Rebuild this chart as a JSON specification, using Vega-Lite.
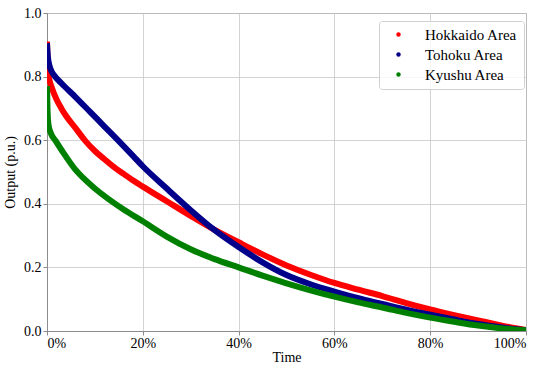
{
  "$schema": "https://vega.github.io/schema/vega-lite/v6.json",
  "autosize": "none",
  "padding": {"left": 47, "top": 13, "right": 24, "bottom": 39},
  "width": 479,
  "height": 318,
  "config": {
    "font": "'Liberation Serif', 'Times New Roman', serif",
    "view": {"stroke": "#8c8c8c", "strokeWidth": 1},
    "axis": {
      "labelFont": "'Liberation Serif', 'Times New Roman', serif",
      "titleFont": "'Liberation Serif', 'Times New Roman', serif",
      "labelFontSize": 14,
      "titleFontSize": 14,
      "labelColor": "#000",
      "titleColor": "#000",
      "titleFontWeight": "normal",
      "domainColor": "#8c8c8c",
      "tickColor": "#8c8c8c",
      "tickSize": 4,
      "gridColor": "#c8c8c8",
      "gridWidth": 0.8
    }
  },
  "data": {
    "values": [
      {"area": "Hokkaido Area", "t": 0, "v": 0.91},
      {"area": "Hokkaido Area", "t": 0.002, "v": 0.82},
      {"area": "Hokkaido Area", "t": 0.005, "v": 0.79},
      {"area": "Hokkaido Area", "t": 0.01, "v": 0.765},
      {"area": "Hokkaido Area", "t": 0.02, "v": 0.728},
      {"area": "Hokkaido Area", "t": 0.03, "v": 0.70},
      {"area": "Hokkaido Area", "t": 0.04, "v": 0.676},
      {"area": "Hokkaido Area", "t": 0.06, "v": 0.637},
      {"area": "Hokkaido Area", "t": 0.08, "v": 0.598},
      {"area": "Hokkaido Area", "t": 0.10, "v": 0.566},
      {"area": "Hokkaido Area", "t": 0.12, "v": 0.54},
      {"area": "Hokkaido Area", "t": 0.14, "v": 0.515},
      {"area": "Hokkaido Area", "t": 0.16, "v": 0.494},
      {"area": "Hokkaido Area", "t": 0.18, "v": 0.473},
      {"area": "Hokkaido Area", "t": 0.20, "v": 0.454},
      {"area": "Hokkaido Area", "t": 0.25, "v": 0.408},
      {"area": "Hokkaido Area", "t": 0.30, "v": 0.362},
      {"area": "Hokkaido Area", "t": 0.35, "v": 0.318},
      {"area": "Hokkaido Area", "t": 0.40, "v": 0.279},
      {"area": "Hokkaido Area", "t": 0.45, "v": 0.241},
      {"area": "Hokkaido Area", "t": 0.50, "v": 0.206},
      {"area": "Hokkaido Area", "t": 0.55, "v": 0.177},
      {"area": "Hokkaido Area", "t": 0.60, "v": 0.151},
      {"area": "Hokkaido Area", "t": 0.65, "v": 0.13},
      {"area": "Hokkaido Area", "t": 0.70, "v": 0.11},
      {"area": "Hokkaido Area", "t": 0.75, "v": 0.088},
      {"area": "Hokkaido Area", "t": 0.80, "v": 0.068},
      {"area": "Hokkaido Area", "t": 0.85, "v": 0.05},
      {"area": "Hokkaido Area", "t": 0.90, "v": 0.033},
      {"area": "Hokkaido Area", "t": 0.95, "v": 0.017},
      {"area": "Hokkaido Area", "t": 1.0, "v": 0.003},
      {"area": "Tohoku Area", "t": 0, "v": 0.905},
      {"area": "Tohoku Area", "t": 0.002, "v": 0.86},
      {"area": "Tohoku Area", "t": 0.006, "v": 0.83},
      {"area": "Tohoku Area", "t": 0.01, "v": 0.815},
      {"area": "Tohoku Area", "t": 0.017, "v": 0.80},
      {"area": "Tohoku Area", "t": 0.03, "v": 0.779},
      {"area": "Tohoku Area", "t": 0.06, "v": 0.735},
      {"area": "Tohoku Area", "t": 0.09, "v": 0.689},
      {"area": "Tohoku Area", "t": 0.12, "v": 0.643},
      {"area": "Tohoku Area", "t": 0.15, "v": 0.597},
      {"area": "Tohoku Area", "t": 0.18, "v": 0.55},
      {"area": "Tohoku Area", "t": 0.20, "v": 0.518},
      {"area": "Tohoku Area", "t": 0.25, "v": 0.448},
      {"area": "Tohoku Area", "t": 0.30, "v": 0.38},
      {"area": "Tohoku Area", "t": 0.35, "v": 0.317},
      {"area": "Tohoku Area", "t": 0.40, "v": 0.264},
      {"area": "Tohoku Area", "t": 0.45, "v": 0.216},
      {"area": "Tohoku Area", "t": 0.50, "v": 0.176},
      {"area": "Tohoku Area", "t": 0.55, "v": 0.147},
      {"area": "Tohoku Area", "t": 0.60, "v": 0.124},
      {"area": "Tohoku Area", "t": 0.65, "v": 0.103},
      {"area": "Tohoku Area", "t": 0.70, "v": 0.085},
      {"area": "Tohoku Area", "t": 0.75, "v": 0.067},
      {"area": "Tohoku Area", "t": 0.80, "v": 0.051},
      {"area": "Tohoku Area", "t": 0.85, "v": 0.036},
      {"area": "Tohoku Area", "t": 0.90, "v": 0.022},
      {"area": "Tohoku Area", "t": 0.95, "v": 0.011},
      {"area": "Tohoku Area", "t": 1.0, "v": 0.002},
      {"area": "Kyushu Area", "t": 0, "v": 0.77},
      {"area": "Kyushu Area", "t": 0.001, "v": 0.70},
      {"area": "Kyushu Area", "t": 0.003, "v": 0.65},
      {"area": "Kyushu Area", "t": 0.008, "v": 0.622},
      {"area": "Kyushu Area", "t": 0.017, "v": 0.60},
      {"area": "Kyushu Area", "t": 0.03, "v": 0.57},
      {"area": "Kyushu Area", "t": 0.058, "v": 0.51},
      {"area": "Kyushu Area", "t": 0.08, "v": 0.475},
      {"area": "Kyushu Area", "t": 0.10, "v": 0.448},
      {"area": "Kyushu Area", "t": 0.13, "v": 0.413},
      {"area": "Kyushu Area", "t": 0.16, "v": 0.382},
      {"area": "Kyushu Area", "t": 0.20, "v": 0.345},
      {"area": "Kyushu Area", "t": 0.25, "v": 0.297},
      {"area": "Kyushu Area", "t": 0.30, "v": 0.257},
      {"area": "Kyushu Area", "t": 0.35, "v": 0.226},
      {"area": "Kyushu Area", "t": 0.40, "v": 0.2},
      {"area": "Kyushu Area", "t": 0.45, "v": 0.174},
      {"area": "Kyushu Area", "t": 0.50, "v": 0.15},
      {"area": "Kyushu Area", "t": 0.55, "v": 0.128},
      {"area": "Kyushu Area", "t": 0.60, "v": 0.108},
      {"area": "Kyushu Area", "t": 0.65, "v": 0.09},
      {"area": "Kyushu Area", "t": 0.70, "v": 0.074},
      {"area": "Kyushu Area", "t": 0.75, "v": 0.057},
      {"area": "Kyushu Area", "t": 0.80, "v": 0.042},
      {"area": "Kyushu Area", "t": 0.85, "v": 0.029},
      {"area": "Kyushu Area", "t": 0.90, "v": 0.017},
      {"area": "Kyushu Area", "t": 0.95, "v": 0.008},
      {"area": "Kyushu Area", "t": 1.0, "v": 0.002}
    ]
  },
  "mark": {"type": "line", "strokeWidth": 6, "interpolate": "monotone", "clip": true},
  "encoding": {
    "x": {
      "field": "t", "type": "quantitative",
      "scale": {"domain": [0, 1], "nice": false},
      "axis": {"title": "Time", "format": ".0%", "values": [0, 0.2, 0.4, 0.6, 0.8, 1.0], "labelPadding": 1, "titlePadding": 0}
    },
    "y": {
      "field": "v", "type": "quantitative",
      "scale": {"domain": [0, 1], "nice": false},
      "axis": {"title": "Output (p.u.)", "format": ".1f", "values": [0, 0.2, 0.4, 0.6, 0.8, 1.0], "labelPadding": 2, "titlePadding": 6}
    },
    "color": {
      "field": "area", "type": "nominal",
      "sort": ["Hokkaido Area", "Tohoku Area", "Kyushu Area"],
      "scale": {"domain": ["Hokkaido Area", "Tohoku Area", "Kyushu Area"], "range": ["#ff0000", "#00008b", "#008000"]},
      "legend": {
        "title": null,
        "orient": "none",
        "legendX": 332,
        "legendY": 8,
        "padding": 6,
        "fillColor": "rgba(255,255,255,0.8)",
        "strokeColor": "#d0d0d0",
        "cornerRadius": 3,
        "symbolType": "circle",
        "symbolSize": 20,
        "symbolStrokeWidth": 0,
        "symbolOffset": 6,
        "labelOffset": 19,
        "labelFont": "'Liberation Serif', 'Times New Roman', serif",
        "labelFontSize": 15,
        "labelColor": "#000",
        "rowPadding": 4,
        "encode": {
          "symbols": {"update": {"fill": {"scale": "color", "field": "value"}, "strokeWidth": {"value": 0}}}
        }
      }
    }
  }
}
